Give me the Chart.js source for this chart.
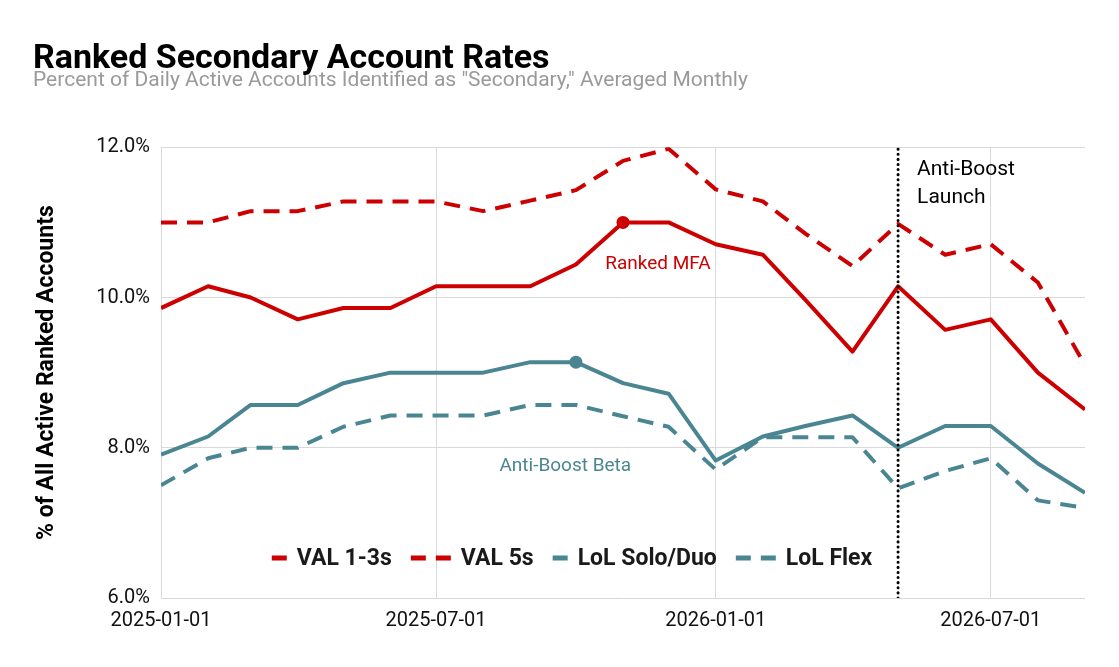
<!DOCTYPE html>
<html>
<head>
<meta charset="utf-8">
<title>Ranked Secondary Account Rates</title>
<script src="https://cdn.jsdelivr.net/npm/chart.js@4.4.1/dist/chart.umd.min.js"></script>
<style>
  html, body { margin: 0; padding: 0; background: #fff; }
  #chart { display: block; }
</style>
</head>
<body>
<canvas id="chart" width="1119" height="667"></canvas>
<script>
// ---- data ----
const months = [
    '2025-01-01', '2025-02-01', '2025-03-01', '2025-04-01', '2025-05-01', '2025-06-01', '2025-07-01',
    '2025-08-01', '2025-09-01', '2025-10-01', '2025-11-01', '2025-12-01', '2026-01-01', '2026-02-01',
    '2026-03-01', '2026-04-01', '2026-05-01', '2026-06-01', '2026-07-01', '2026-08-01', '2026-09-01'
];
const val13 = [9.86, 10.15, 10.0, 9.71, 9.86, 9.86, 10.15, 10.15, 10.15, 10.44, 11.0, 11.0, 10.71, 10.57, 9.97, 9.28, 10.15, 9.57, 9.71, 9.0, 8.51];
const val5 = [11.0, 11.0, 11.15, 11.15, 11.28, 11.28, 11.28, 11.15, 11.29, 11.43, 11.82, 11.98, 11.44, 11.28, 10.85, 10.42, 10.98, 10.57, 10.71, 10.2, 9.1];
const lolSoloDuo = [7.91, 8.15, 8.57, 8.57, 8.86, 9.0, 9.0, 9.0, 9.14, 9.14, 8.86, 8.72, 7.83, 8.15, 8.29, 8.43, 8.0, 8.29, 8.29, 7.79, 7.4];
const lolFlex = [7.5, 7.86, 8.0, 8.0, 8.28, 8.43, 8.43, 8.43, 8.57, 8.57, 8.42, 8.28, 7.71, 8.14, 8.14, 8.14, 7.46, 7.69, 7.86, 7.3, 7.2];

const xTickDates = ['2025-01-01', '2025-07-01', '2026-01-01', '2026-07-01'];
const yTicks = [6, 8, 10, 12];
const launchDate = '2026-05-01';
const mfaMonth = '2025-11-01';   // dot on VAL 1-3s
const betaMonth = '2025-10-01';  // dot on LoL Solo/Duo

const RED = '#cc0000';
const TEAL = '#4a8692';
const FONT = 'Roboto';

const toDay = s => Date.parse(s + 'T00:00:00Z') / 86400000;
const series = arr => months.map((m, i) => ({ x: toDay(m), y: arr[i] }));
const dotAt = month => ctx => (ctx.dataIndex === months.indexOf(month) ? 6.5 : 0);

// ---- annotation + legend plugin ----
const notes = [
    { text: 'Ranked MFA', date: '2025-11-24', value: 10.44, color: RED },
    { text: 'Anti-Boost Beta', date: '2025-09-24', value: 7.76, color: TEAL }
];
const legendItems = [
    { label: 'VAL 1-3s', color: RED, dashed: false },
    { label: 'VAL 5s', color: RED, dashed: true },
    { label: 'LoL Solo/Duo', color: TEAL, dashed: false },
    { label: 'LoL Flex', color: TEAL, dashed: true }
];

const overlay = {
    id: 'overlay',
    afterDatasetsDraw(chart) {
        const { ctx, chartArea, scales: { x, y } } = chart;
        ctx.save();
        ctx.textBaseline = 'middle';

        // line labels
        ctx.font = `19px ${FONT}`;
        ctx.textAlign = 'center';
        notes.forEach(n => {
            ctx.fillStyle = n.color;
            ctx.fillText(n.text, x.getPixelForValue(toDay(n.date)), y.getPixelForValue(n.value));
        });

        // launch label
        ctx.font = `21px ${FONT}`;
        ctx.textAlign = 'left';
        ctx.fillStyle = '#000';
        const lx = x.getPixelForValue(toDay(launchDate)) + 19;
        ctx.fillText('Anti-Boost', lx, chartArea.top + 22);
        ctx.fillText('Launch', lx, chartArea.top + 50);

        // legend inside the plot, bottom
        ctx.font = `bold 23px ${FONT}`;
        const widths = legendItems.map(it => (it.dashed ? 40 : 15) + 10 + ctx.measureText(it.label).width);
        const total = widths.reduce((a, b) => a + b, 0) + 19 * (legendItems.length - 1);
        let cx = chartArea.left + 411 - total / 2;
        const ly = chartArea.bottom - 40;
        legendItems.forEach((it, i) => {
            ctx.fillStyle = it.color;
            ctx.fillRect(cx, ly - 2.5, 15, 5);
            let sw = 15;
            if (it.dashed) {
                ctx.fillRect(cx + 25, ly - 2.5, 15, 5);
                sw = 40;
            }
            ctx.fillStyle = '#1a1a1a';
            ctx.fillText(it.label, cx + sw + 10, ly + 1);
            cx += widths[i] + 19;
        });
        ctx.restore();
    }
};

const lineBase = { borderWidth: 4, borderJoinStyle: 'round', tension: 0, pointHoverRadius: 0, order: 1 };

new Chart(document.getElementById('chart'), {
    type: 'line',
    data: {
        datasets: [
            { label: 'launch', data: [{ x: toDay(launchDate), y: 6 }, { x: toDay(launchDate), y: 12 }],
              borderColor: '#000', borderWidth: 3, borderDash: [0.1, 5], borderCapStyle: 'round', pointRadius: 0, order: 0 },
            { ...lineBase, label: 'VAL 1-3s', data: series(val13), borderColor: RED, backgroundColor: RED,
              pointRadius: dotAt(mfaMonth), pointBorderWidth: 0 },
            { ...lineBase, label: 'VAL 5s', data: series(val5), borderColor: RED, borderDash: [16, 10], pointRadius: 0 },
            { ...lineBase, label: 'LoL Solo/Duo', data: series(lolSoloDuo), borderColor: TEAL, backgroundColor: TEAL,
              pointRadius: dotAt(betaMonth), pointBorderWidth: 0 },
            { ...lineBase, label: 'LoL Flex', data: series(lolFlex), borderColor: TEAL, borderDash: [16, 10], pointRadius: 0 }
        ]
    },
    options: {
        responsive: false,
        animation: false,
        events: [],
        layout: { padding: { left: 33, right: 34, top: 0, bottom: 33 } },
        plugins: {
            legend: { display: false },
            tooltip: { enabled: false },
            title: {
                display: true,
                text: 'Ranked Secondary Account Rates',
                align: 'start',
                color: '#000',
                font: { family: FONT, size: 34, weight: 'bold', lineHeight: 0.8 },
                padding: { top: 46, bottom: 0 }
            },
            subtitle: {
                display: true,
                text: 'Percent of Daily Active Accounts Identified as "Secondary," Averaged Monthly',
                align: 'start',
                color: '#9a9a9a',
                font: { family: FONT, size: 21, lineHeight: 0.72 },
                padding: { top: 0, bottom: 59 }
            }
        },
        scales: {
            x: {
                type: 'linear',
                min: toDay(months[0]),
                max: toDay(months[months.length - 1]),
                afterBuildTicks: s => { s.ticks = xTickDates.map(d => ({ value: toDay(d) })); },
                afterFit: s => { s.height = 36; },
                grid: { color: '#d9d9d9', drawTicks: false },
                border: { display: false },
                ticks: {
                    padding: 11,
                    color: '#111',
                    font: { family: FONT, size: 20 },
                    maxRotation: 0,
                    callback: v => new Date(v * 86400000).toISOString().slice(0, 10)
                }
            },
            y: {
                min: 6,
                max: 12,
                afterBuildTicks: s => { s.ticks = yTicks.map(v => ({ value: v })); },
                afterFit: s => { s.width = 128; },
                grid: { color: '#d9d9d9', drawTicks: false },
                border: { display: true, color: '#d9d9d9' },
                title: {
                    display: true,
                    text: '% of All Active Ranked Accounts',
                    color: '#000',
                    font: { family: FONT, size: 23, weight: 'bold' },
                    padding: 0
                },
                ticks: {
                    padding: 11,
                    color: '#111',
                    font: { family: FONT, size: 20 },
                    callback: v => v.toFixed(1) + '%'
                }
            }
        }
    },
    plugins: [overlay]
});
</script>
</body>
</html>
